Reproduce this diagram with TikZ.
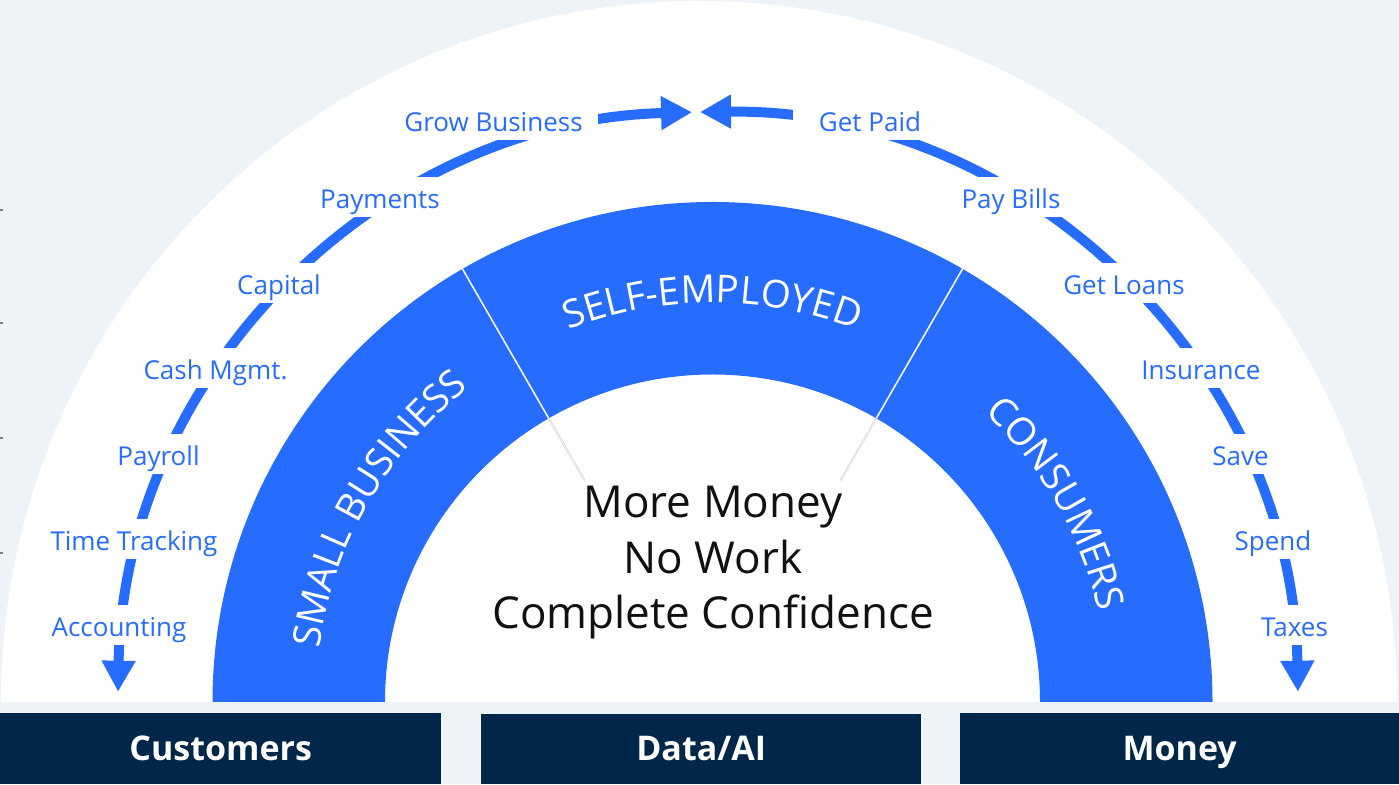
\documentclass[tikz,border=0pt]{standalone}
\usepackage{fontspec}
\setmainfont{Open Sans}
\usetikzlibrary{arrows.meta,decorations.text}
\definecolor{bgc}{RGB}{238,243,247}
\definecolor{iblue}{RGB}{38,108,255}
\definecolor{navy}{RGB}{0,38,73}
\definecolor{ink}{RGB}{17,17,17}
\newcommand\bandfont{\fontsize{38.5}{38.5}\selectfont\color{white}}
\begin{document}
\begin{tikzpicture}[x=1pt,y=1pt,
  lbl/.style={fill=white, text=iblue, font=\fontsize{26}{26}\selectfont, text height=28.3pt, text depth=5.7pt, inner ysep=3pt, inner xsep=16pt, anchor=base},
  flow/.style={draw=iblue, line width=10pt, {Triangle[length=31pt,width=32pt]}-{Triangle[length=31pt,width=32pt]}},
  ctext/.style={text=ink, font=\fontsize{44}{44}\selectfont, anchor=base, inner sep=0pt},
  bar/.style={fill=navy, text=white, font=\fontsize{34}{34}\bfseries, text height=24pt, text depth=0pt, inner sep=0pt, anchor=south west},
  divider/.style={white, line width=1.5pt},
  ghost/.style={gray!45, line width=1.6pt},
  ghostcore/.style={white, line width=0.6pt}
]
\useasboundingbox (0,0) rectangle (1399,784);
\fill[bgc] (0,0) rectangle (1399,784);
% tiny ticks at left edge
\foreach \yy in {574,461,346,231} \draw[gray, line width=1.5pt] (0,\yy) -- (2.5,\yy);
% white half disc
\coordinate (whiteC) at (699,82);
\fill[white] ([shift={(698,0)}]whiteC) arc[start angle=0,end angle=180,x radius=698,y radius=701] -- cycle;
% blue ring
\coordinate (ringC) at (712.5,82);
\fill[iblue] ([shift={(0:500)}]ringC) arc[start angle=0,end angle=180,radius=500]
  -- ([shift={(180:327.5)}]ringC) arc[start angle=180,end angle=0,radius=327.5] -- cycle;
\draw[divider] ([shift={(60:327.5)}]ringC) -- ([shift={(60:500)}]ringC);
\draw[divider] ([shift={(120:327.5)}]ringC) -- ([shift={(120:500)}]ringC);
\draw[ghost] ([shift={(60:256)}]ringC) -- ([shift={(60:327)}]ringC);
\draw[ghostcore] ([shift={(60:256.5)}]ringC) -- ([shift={(60:327)}]ringC);
\draw[ghost] ([shift={(120:256)}]ringC) -- ([shift={(120:327)}]ringC);
\draw[ghostcore] ([shift={(120:256.5)}]ringC) -- ([shift={(120:327)}]ringC);
% curved band texts
\path[decorate, decoration={text along path, text align=center, text={|\bandfont|SMALL BUSINESS}}]
  ([shift={(180:397)}]ringC) arc[start angle=180,end angle=120,radius=397];
\path[decorate, decoration={text along path, text align=center, text={|\bandfont|SELF-EMPLOYED}}]
  ([shift={(120:399)}]ringC) arc[start angle=120,end angle=60,radius=399];
\path[decorate, decoration={text along path, text align=center, text={|\bandfont|CONSUMERS}}]
  ([shift={(60:397)}]ringC) arc[start angle=60,end angle=0,radius=397];
% centre text
\node[ctext] (m1) at (713,266) {More Money};
\node[ctext] (m2) at (713,210) {No Work};
\node[ctext] (m3) at (713,155) {Complete Confidence};
% flow arcs
\coordinate (flowC) at (708,82);
\draw[flow] ([shift={(179:590)}]flowC) arc[start angle=179,end angle=91.55,radius=590];
\draw[flow] ([shift={(90.78:590)}]flowC) arc[start angle=90.78,end angle=1,radius=590];
% left labels
\node[lbl, inner xsep=15pt] (grow) at (493.5,652.7) {Grow Business};
\node[lbl] (pay) at (380,575.7) {Payments};
\node[lbl] (cap) at (279,489.7) {Capital};
\node[lbl] (cash) at (215.5,404.2) {Cash Mgmt.};
\node[lbl] (payroll) at (158.5,318.7) {Payroll};
\node[lbl] (time) at (134,233.2) {Time Tracking};
\node[lbl] (acc) at (119,147.7) {Accounting};
% right labels
\node[lbl, inner xsep=26pt] (paid) at (870,652.7) {Get Paid};
\node[lbl] (bills) at (1011,575.7) {Pay Bills};
\node[lbl] (loans) at (1124,489.7) {Get Loans};
\node[lbl] (ins) at (1201,404.2) {Insurance};
\node[lbl] (save) at (1240.5,318.7) {Save};
\node[lbl] (spend) at (1273,233.2) {Spend};
\node[lbl] (tax) at (1294.5,147.7) {Taxes};
% bottom bars
\node[bar, minimum width=441pt, minimum height=71pt] (cust) at (0,0) {Customers};
\node[bar, minimum width=440pt, minimum height=70pt] (data) at (481,0) {Data/AI};
\node[bar, minimum width=439pt, minimum height=71pt] (money) at (960,0) {Money};
\end{tikzpicture}
\end{document}
